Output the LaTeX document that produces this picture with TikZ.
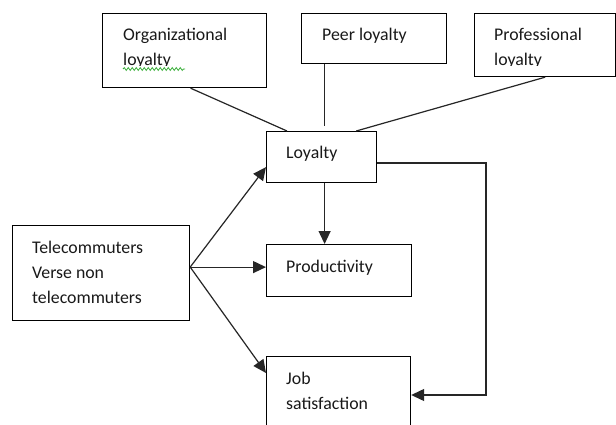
\documentclass[tikz,border=0pt]{standalone}
\usepackage{fontspec}
\setmainfont{Carlito}
\usetikzlibrary{arrows.meta,decorations.pathmorphing}
\begin{document}
\begin{tikzpicture}[x=1pt,y=-1pt,
  box/.style={draw=black,line width=1.2pt,rectangle,anchor=north west,inner sep=0pt},
  txt/.style={anchor=base west,inner sep=0pt,font=\fontsize{17.8}{22}\selectfont,text=black!90},
  link/.style={line width=1.2pt,draw=black!85},
  arr/.style={link,-{Triangle[length=13pt,width=12pt]}}]
\clip (0,0) rectangle (616,425);
\fill[white] (0,0) rectangle (616,425);
% boxes
\node[box,minimum width=164pt,minimum height=74pt] (org) at (102,13) {};
\node[box,minimum width=145pt,minimum height=50pt] (peer) at (301,13) {};
\node[box,minimum width=141pt,minimum height=63pt] (prof) at (474,13) {};
\node[box,minimum width=110pt,minimum height=51pt] (loy) at (266,131) {};
\node[box,minimum width=145pt,minimum height=52pt] (prod) at (266,244) {};
\node[box,minimum width=144pt,minimum height=80pt] (job) at (266,356) {};
\node[box,minimum width=177pt,minimum height=95pt] (tele) at (12,225) {};
% texts
\node[txt] (orgt) at (123,41) {Organizational};
\begin{scope}
\clip (104,48) -- (264,48) -- (264,66) -- (104,66) -- cycle;
\node[txt] (orgt2) at (123,66) {loyalty};
\end{scope}
\draw[green!60!black!80,line width=0.8pt,decorate,decoration={snake,amplitude=1.4pt,segment length=4pt}] (123,69) -- (185,69);
\node[txt] (peert) at (322,41) {Peer loyalty};
\node[txt] (proft) at (494,41) {Professional};
\begin{scope}
\clip (476,48) -- (614,48) -- (614,66) -- (476,66) -- cycle;
\node[txt] (proft2) at (494,66) {loyalty};
\end{scope}
\node[txt] (loyt) at (286,159) {Loyalty};
\node[txt] (prodt) at (286,272) {Productivity};
\node[txt] (jobt) at (286,384) {Job};
\node[txt] (jobt2) at (286,409) {satisfaction};
\node[txt] (tele1) at (32,253) {Telecommuters};
\node[txt] (tele2) at (32,278) {Verse non};
\node[txt] (tele3) at (32,303) {telecommuters};
% connectors
\draw[link] ([xshift=6pt]org.south) -- ([xshift=21pt]loy.north west);
\draw[link] ([xshift=3pt,yshift=5pt]loy.north) -- ([xshift=3pt]loy.north |- peer.south);
\draw[link] (prof.south) -- ([xshift=-21pt]loy.north east);
\coordinate (src) at ([yshift=6pt]tele.east);
\draw[arr] (src) -- ([yshift=-10pt]loy.west);
\draw[arr] (src) -- (src -| prod.west);
\draw[arr] (src) -- ([yshift=-17pt]job.north west);
\draw[arr] ([xshift=3pt]loy.south) -- ([xshift=3pt]loy.south |- prod.north);
\coordinate (turn) at (486,163);
\draw[arr] (loy.east |- turn) -- (turn) -- (turn |- 0,395) -- (job.east |- 0,395);
\end{tikzpicture}
\end{document}
